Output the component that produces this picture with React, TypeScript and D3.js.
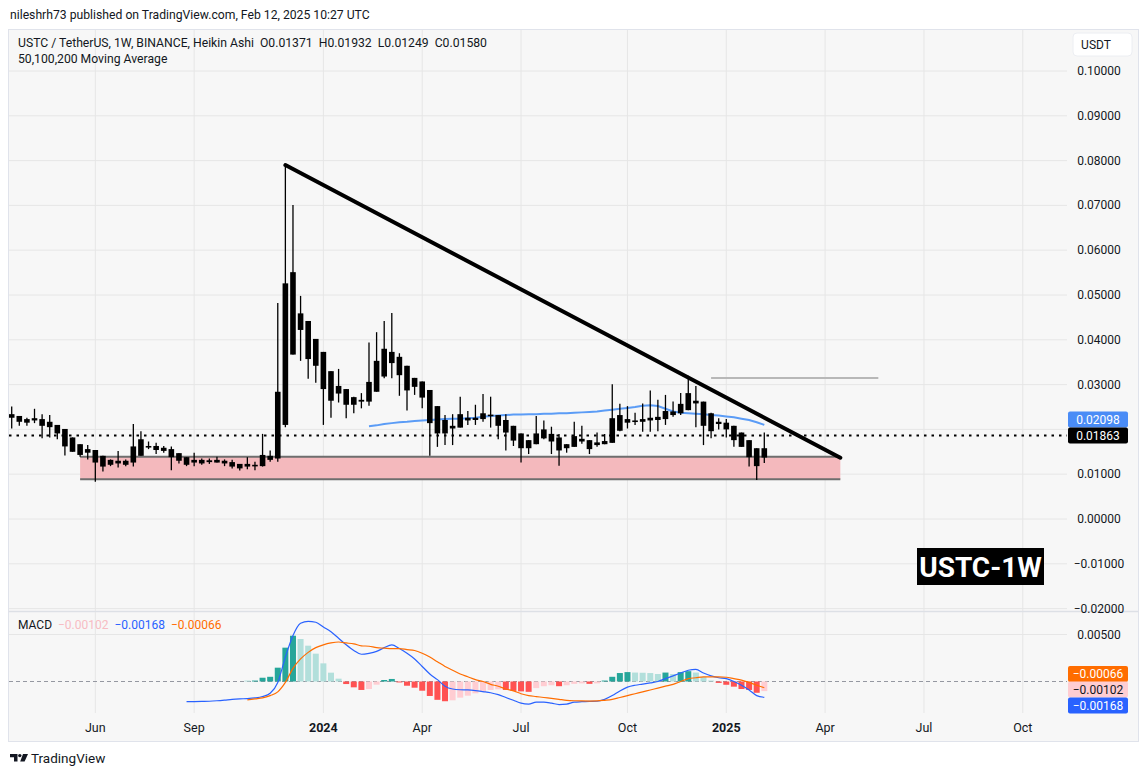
import React from "react";
import * as d3 from "d3";

// ---------- DATA ----------
const LAST_BAR = Date.UTC(2025, 1, 10);
const WEEK = 7 * 24 * 3600 * 1000;
const barDate = (i: number) => new Date(LAST_BAR - (99 - i) * WEEK);

const haHigh = [0.0251,0.0230,0.0226,0.0246,0.0234,0.0232,0.0210,0.0201,0.0182,0.0167,
0.0165,0.0154,0.0141,0.0133,0.0152,0.0133,0.0212,0.0196,0.0173,0.0170,
0.0163,0.0162,0.0147,0.0138,0.0148,0.0135,0.0135,0.0139,0.0133,0.0132,
0.0123,0.0138,0.0128,0.0190,0.0153,0.0482,0.0790,0.0701,0.0498,0.0442,
0.0402,0.0373,0.0330,0.0335,0.0290,0.0273,0.0281,0.0394,0.0417,0.0442,
0.0460,0.0370,0.0342,0.0315,0.0307,0.0288,0.0252,0.0232,0.0234,0.0273,
0.0241,0.0255,0.0279,0.0273,0.0232,0.0234,0.0208,0.0191,0.0176,0.0230,
0.0220,0.0206,0.0190,0.0167,0.0217,0.0208,0.0176,0.0193,0.0190,0.0301,
0.0257,0.0252,0.0237,0.0258,0.0287,0.0266,0.0277,0.0262,0.0281,0.0320,
0.0297,0.0262,0.0237,0.0225,0.0223,0.0208,0.0193,0.0176,0.0158,0.01932];

const haClose = [0.0234,0.0230,0.0223,0.0225,0.0223,0.0217,0.0210,0.0201,0.0182,0.0167,
0.0156,0.0154,0.0141,0.0132,0.0130,0.0130,0.0162,0.0178,0.0163,0.0163,
0.0159,0.0156,0.0147,0.0138,0.0132,0.0132,0.0131,0.0132,0.0130,0.0127,
0.0123,0.0123,0.0121,0.0143,0.0141,0.0284,0.0526,0.0551,0.0459,0.0442,
0.0402,0.0373,0.0330,0.0297,0.0290,0.0272,0.0266,0.0306,0.0353,0.0380,
0.0373,0.0362,0.0342,0.0315,0.0307,0.0288,0.0252,0.0221,0.0208,0.0234,
0.0226,0.0226,0.0236,0.0233,0.0232,0.0221,0.0208,0.0191,0.0176,0.0191,
0.0200,0.0190,0.0182,0.0167,0.0185,0.0179,0.0176,0.0171,0.0174,0.0225,
0.0232,0.0223,0.0220,0.0223,0.0226,0.0228,0.0241,0.0240,0.0257,0.0281,
0.0264,0.0262,0.0236,0.0217,0.0215,0.0208,0.0193,0.0176,0.0158,0.01580];

const haOpen = [0.0226,0.0217,0.0215,0.0220,0.0208,0.0205,0.0191,0.0162,0.0150,0.0143,
0.0148,0.0126,0.0117,0.0121,0.0124,0.0121,0.0126,0.0141,0.0160,0.0154,
0.0152,0.0138,0.0130,0.0121,0.0126,0.0124,0.0127,0.0126,0.0124,0.0117,
0.0113,0.0117,0.0119,0.0118,0.0132,0.0135,0.0210,0.0367,0.0422,0.0357,
0.0342,0.0290,0.0264,0.0280,0.0255,0.0255,0.0262,0.0262,0.0284,0.0318,
0.0348,0.0321,0.0287,0.0295,0.0271,0.0214,0.0191,0.0191,0.0202,0.0204,
0.0220,0.0221,0.0223,0.0231,0.0208,0.0193,0.0175,0.0158,0.0158,0.0167,
0.0180,0.0173,0.0153,0.0158,0.0161,0.0173,0.0156,0.0165,0.0167,0.0170,
0.0197,0.0215,0.0218,0.0217,0.0220,0.0221,0.0223,0.0232,0.0236,0.0243,
0.0258,0.0208,0.0196,0.0212,0.0200,0.0176,0.0161,0.0138,0.0118,0.01371];

const haLow = [0.0202,0.0208,0.0208,0.0214,0.0180,0.0182,0.0178,0.0142,0.0150,0.0139,
0.0133,0.0083,0.0106,0.0118,0.0115,0.0118,0.0117,0.0141,0.0156,0.0145,
0.0148,0.0109,0.0124,0.0118,0.0118,0.0121,0.0123,0.0126,0.0118,0.0113,
0.0108,0.0111,0.0109,0.0117,0.0128,0.0128,0.0205,0.0367,0.0353,0.0313,
0.0304,0.0210,0.0226,0.0260,0.0225,0.0236,0.0247,0.0253,0.0284,0.0314,
0.0314,0.0275,0.0242,0.0277,0.0247,0.0141,0.0161,0.0165,0.0165,0.0204,
0.0210,0.0210,0.0217,0.0204,0.0178,0.0153,0.0163,0.0126,0.0145,0.0167,
0.0178,0.0145,0.0119,0.0148,0.0161,0.0168,0.0145,0.0161,0.0167,0.0170,
0.0196,0.0202,0.0210,0.0195,0.0195,0.0196,0.0210,0.0228,0.0232,0.0243,
0.0205,0.0165,0.0180,0.0200,0.0182,0.0161,0.0161,0.0117,0.0087,0.01249];

const maStart = 47;
const maValues = [0.0207,0.0209,0.0212,0.0214,0.0216,0.0217,0.0219,0.0220,0.0221,0.0222,
0.0223,0.0224,0.0224,0.0225,0.0226,0.0228,0.0230,0.0231,0.0232,0.0233,
0.0233,0.0234,0.0234,0.0235,0.0235,0.0236,0.0236,0.0237,0.0238,0.0239,
0.0240,0.0242,0.0244,0.0246,0.0248,0.0250,0.0253,0.0254,0.0252,0.0246,
0.0240,0.0237,0.0236,0.0235,0.0234,0.0232,0.0231,0.0229,0.0227,0.0224,
0.0221,0.0216,0.0210];

const macdStart = 23;
const macdValues = [-0.00215,-0.00214,-0.00212,-0.0021,-0.00205,-0.00198,-0.0019,-0.00185,-0.00182,-0.00175,-0.0016,-0.00125,-0.0001,
0.0026,0.0049,0.0062,0.0064,0.0063,0.0058,0.0053,0.0046,0.0039,0.0033,0.0029,0.0030,0.0032,0.0036,0.0039,0.0035,0.0030,0.0024,0.0016,0.0008,0.0002,
-0.0005,-0.0008,-0.00088,-0.0009,-0.00097,-0.00108,-0.0012,-0.0014,-0.0017,-0.002,-0.0023,-0.0024,-0.0022,-0.0022,-0.0023,-0.00245,-0.0024,-0.0022,-0.00215,-0.00212,-0.0021,
-0.0019,-0.0015,-0.0010,-0.0006,-0.0004,-0.00028,-0.00015,0.0,0.0003,0.0006,0.0009,0.0012,0.0013,0.0009,0.0006,0.0004,0.0003,0.0,-0.0004,-0.0009,-0.0015,-0.00168];

const signalStart = 31;
const signalValues = [-0.00195,-0.00185,-0.00175,-0.0015,-0.0011,-0.0001,
0.0014,0.0024,0.0031,0.0036,0.0039,0.0041,0.0042,0.0041,0.0040,0.0038,0.00375,0.0036,0.00355,0.0035,0.0035,0.0034,0.0033,0.0030,0.0026,0.0021,0.0016,0.0012,0.0008,0.0005,0.0002,
0.0,-0.0003,-0.0005,-0.0008,-0.001,-0.0013,-0.0015,-0.0016,-0.0017,-0.0018,-0.0019,-0.002,-0.00205,-0.00207,-0.00208,-0.00207,-0.002,-0.0019,-0.0017,-0.0015,-0.0013,-0.0011,-0.0009,-0.0007,-0.0005,-0.0003,0.0,0.0003,0.0004,0.0005,0.0005,0.0005,0.00045,0.0003,0.00015,-0.0001,-0.0004,-0.00066];

const histStart = 31;
const histValues = [0.0001,0.0001,0.0004,0.0005,0.00147,0.0036,0.00487,0.00452,0.00381,0.00296,
0.00193,0.00094,0.0003,-0.00027,-0.00062,-0.0009,-0.0008,-0.00034,0.00016,0.00027,
-0.0001,-0.00045,-0.00066,-0.00098,-0.00154,-0.00195,-0.0021,-0.002,-0.00172,-0.00151,
-0.00126,-0.00109,-0.0009,-0.00083,-0.0009,-0.001,-0.00105,-0.0011,-0.0007,-0.0005,
-0.0004,-0.0005,-0.0004,-0.00025,-0.0002,-0.00025,-0.0002,0.0001,0.0005,0.0009,
0.001,0.00095,0.00093,0.0009,0.0008,0.00095,0.0008,0.001,0.0011,0.00095,
0.0005,0.0001,-0.00015,-0.00035,-0.00055,-0.0008,-0.0009,-0.0012,-0.00102];

const priceTicks = [-0.02,-0.01,0,0.01,0.02,0.03,0.04,0.05,0.06,0.07,0.08,0.09,0.1];
const macdTicks = [0.005];
const timeTickDates = ["2023-06-05","2023-09-04","2024-01-01","2024-04-01","2024-07-01","2024-10-07","2025-01-06","2025-04-07","2025-07-07","2025-10-06"];
const timeTickLabels = ["Jun","Sep","2024","Apr","Jul","Oct","2025","Apr","Jul","Oct"];

const trendStartBar = 36, trendEndBar = 109;
const trendPrices = [0.0790, 0.01368];
const resistanceBars = [92, 114];
const resistancePrice = 0.0315;
const zoneBars = [9, 109];
const zonePrices = [0.00886, 0.0139];

const lastPrice = 0.01863;
const lastMA = 0.02098;
const macdLast = -0.00168, signalLast = -0.00066, histLast = -0.00102;

// ---------- STYLE ----------
const FONT = "Roboto, 'Noto Sans', Arial, sans-serif";
const TXT = "#131722";
const BG = "#f7f7f7";
const GRID = "#e6e6e6";
const plotL = 9, plotR = 1067, mainT = 30, mainB = 611, macdT = 612, macdB = 713;

const fmt = (v: number) => d3.format(".5f")(v).replace("-", "\u2212");

export default function App() {
  const x = d3.scaleTime().domain([barDate(0), barDate(99)]).range([11.7, 764.3]);
  const y = d3.scaleLinear().domain([0, 0.1]).range([519, 71]);
  const ym = d3.scaleLinear().domain([0, 0.005]).range([681.5, 634.5]);
  const xb = (i: number) => x(barDate(i));

  const maLine = d3.line<number>().x((_, j) => xb(maStart + j)).y(v => y(v));
  const macdLine = d3.line<number>().x((_, j) => xb(macdStart + j)).y(v => ym(v)).curve(d3.curveMonotoneX);
  const sigLine = d3.line<number>().x((_, j) => xb(signalStart + j)).y(v => ym(v)).curve(d3.curveMonotoneX);

  const histColor = (v: number, prev: number | undefined) => {
    if (v >= 0) return prev !== undefined && v >= prev ? "#26a69a" : "#b2dfdb";
    return prev !== undefined && v < prev ? "#ff5252" : "#ffcdd2";
  };

  // label boxes on the price scale (positions spread so they do not overlap)
  const priceBoxes = [
    { cy: 419.5, fill: "#4a8cf6", tf: "#fff", text: fmt(lastMA) },
    { cy: 435.5, fill: "#000", tf: "#fff", text: fmt(lastPrice) },
  ];
  const macdBoxes = [
    { cy: 674, fill: "#ff6d00", tf: "#fff", text: fmt(signalLast) },
    { cy: 689.5, fill: "#ffcdd2", tf: TXT, text: fmt(histLast) },
    { cy: 705.5, fill: "#2962ff", tf: "#fff", text: fmt(macdLast) },
  ];
  const hiddenByBox = (yy: number) => priceBoxes.some(b => Math.abs(b.cy - yy) < 14);

  const labelBox = (b: { cy: number; fill: string; tf: string; text: string }, key: string) => (
    <g key={key}>
      <rect x={1068} y={b.cy - 8} width={60} height={16} rx={2} fill={b.fill} />
      <text x={1098} y={b.cy + 4} textAnchor="middle" fontSize={12} fill={b.tf} fontFamily={FONT}>{b.text}</text>
    </g>
  );

  return (
    <svg width={1147} height={777} style={{ position: "absolute", left: 0, top: 0, background: "#fff" }}>
      <defs>
        <clipPath id="mainClip"><rect x={plotL} y={mainT} width={plotR - plotL} height={mainB - mainT} /></clipPath>
        <clipPath id="macdClip"><rect x={plotL} y={macdT} width={plotR - plotL} height={macdB - macdT} /></clipPath>
      </defs>

      {/* header */}
      <text x={10} y={19} fontSize={12.2} fill={TXT} fontFamily={FONT}>nileshrh73 published on TradingView.com, Feb 12, 2025 10:27 UTC</text>

      {/* frame */}
      <rect x={8.5} y={29.5} width={1130} height={712} fill={BG} stroke="#e0e3eb" />
      <line x1={8.5} x2={1138.5} y1={611.5} y2={611.5} stroke="#dde0e6" strokeWidth={1.5} />

      {/* vertical grid */}
      {timeTickDates.map((d, i) => {
        const xx = x(new Date(d + "T00:00:00Z"));
        return <g key={"vg" + i}>
          <line x1={xx} x2={xx} y1={mainT} y2={mainB} stroke={GRID} />
          <line x1={xx} x2={xx} y1={macdT} y2={macdB} stroke={GRID} />
        </g>;
      })}
      {/* horizontal grid */}
      {priceTicks.map((p, i) => (
        <line key={"hg" + i} x1={plotL} x2={plotR} y1={y(p)} y2={y(p)} stroke={GRID} clipPath="url(#mainClip)" />
      ))}
      {macdTicks.map((p, i) => (
        <line key={"mg" + i} x1={plotL} x2={plotR} y1={ym(p)} y2={ym(p)} stroke={GRID} />
      ))}

      {/* main pane */}
      <g clipPath="url(#mainClip)">
        <rect x={xb(zoneBars[0])} width={xb(zoneBars[1]) - xb(zoneBars[0])} y={y(zonePrices[1])} height={y(zonePrices[0]) - y(zonePrices[1])} fill="#f4b9bd" />
        <line x1={xb(zoneBars[0])} x2={xb(zoneBars[1])} y1={y(zonePrices[1])} y2={y(zonePrices[1])} stroke="#6e6e6e" strokeWidth={2} />
        <line x1={xb(zoneBars[0])} x2={xb(zoneBars[1])} y1={y(zonePrices[0])} y2={y(zonePrices[0])} stroke="#6e6e6e" strokeWidth={2} />

        <line x1={plotL} x2={plotR} y1={y(lastPrice)} y2={y(lastPrice)} stroke="#000" strokeWidth={2} strokeDasharray="2.5 5" />

        <line x1={xb(resistanceBars[0])} x2={xb(resistanceBars[1])} y1={y(resistancePrice)} y2={y(resistancePrice)} stroke="#b8b8b8" strokeWidth={2} />

        <path d={maLine(maValues) || ""} fill="none" stroke="#5b9cf6" strokeWidth={2} />

        {haHigh.map((h, i) => {
          const cx = xb(i);
          const top = Math.max(haOpen[i], haClose[i]);
          const bot = Math.min(haOpen[i], haClose[i]);
          const yt = y(top), yb2 = y(bot);
          return <g key={"c" + i}>
            <line x1={cx} x2={cx} y1={y(h)} y2={y(haLow[i])} stroke="#000" strokeWidth={1.3} />
            <rect x={cx - 2.8} width={5.6} y={yt} height={Math.max(1.6, yb2 - yt)} fill="#000" />
          </g>;
        })}

        <line x1={xb(trendStartBar)} x2={xb(trendEndBar)} y1={y(trendPrices[0])} y2={y(trendPrices[1])} stroke="#000" strokeWidth={4} strokeLinecap="round" />
      </g>

      {/* macd pane */}
      <g clipPath="url(#macdClip)">
        <line x1={plotL} x2={plotR} y1={ym(0)} y2={ym(0)} stroke="#9598a1" strokeDasharray="4 3" />
        {histValues.map((v, j) => {
          const cx = xb(histStart + j);
          const prev = j === 0 ? undefined : histValues[j - 1];
          const y0 = ym(0), y1 = ym(v);
          return <rect key={"h" + j} x={cx - 3} width={6} y={Math.min(y0, y1)} height={Math.max(0.8, Math.abs(y1 - y0))} fill={histColor(v, prev)} />;
        })}
        <path d={macdLine(macdValues) || ""} fill="none" stroke="#2962ff" strokeWidth={1.2} />
        <path d={sigLine(signalValues) || ""} fill="none" stroke="#ff6d00" strokeWidth={1.2} />
      </g>

      {/* legends */}
      <text x={18} y={47} fontSize={12.2} fill={TXT} fontFamily={FONT} style={{ whiteSpace: "pre" }}>
        {"USTC / TetherUS, 1W, BINANCE, Heikin Ashi  O0.01371  H0.01932  L0.01249  C0.01580"}
      </text>
      <text x={18} y={63} fontSize={12.2} fill={TXT} fontFamily={FONT}>50,100,200 Moving Average</text>
      <text x={18} y={629} fontSize={12} fontFamily={FONT} style={{ whiteSpace: "pre" }}>
        <tspan fill={TXT}>MACD  </tspan>
        <tspan fill="#f7bcc3">{fmt(histLast) + "  "}</tspan>
        <tspan fill="#2962ff">{fmt(macdLast) + "  "}</tspan>
        <tspan fill="#ff6d00">{fmt(signalLast)}</tspan>
      </text>

      {/* price axis */}
      <rect x={1073} y={33} width={59} height={23} rx={4} fill="#fff" stroke="#eceef2" />
      <text x={1096} y={49} textAnchor="middle" fontSize={12} fill={TXT} fontFamily={FONT}>USDT</text>
      {priceTicks.filter(p => !hiddenByBox(y(p))).map((p, i) => (
        <text key={"pt" + i} x={1099} y={y(p) + 4} textAnchor="middle" fontSize={12} fill={TXT} fontFamily={FONT}>{fmt(p)}</text>
      ))}
      {macdTicks.map((p, i) => (
        <text key={"mt" + i} x={1099} y={ym(p) + 4} textAnchor="middle" fontSize={12} fill={TXT} fontFamily={FONT}>{fmt(p)}</text>
      ))}
      {priceBoxes.map((b, i) => labelBox(b, "pb" + i))}
      {macdBoxes.map((b, i) => labelBox(b, "mb" + i))}

      {/* time axis */}
      {timeTickDates.map((d, i) => {
        const bold = /^\d{4}$/.test(timeTickLabels[i]);
        return <text key={"tt" + i} x={x(new Date(d + "T00:00:00Z"))} y={732} textAnchor="middle" fontSize={12.5} fontWeight={bold ? 700 : 400} fill={TXT} fontFamily={FONT}>{timeTickLabels[i]}</text>;
      })}

      {/* watermark */}
      <rect x={917} y={548} width={127} height={37} fill="#000" />
      <text x={980.5} y={577} textAnchor="middle" fontSize={28} fontWeight={700} fill="#fff" fontFamily={FONT}>USTC-1W</text>

      {/* footer logo */}
      <path d="M10 754 H17.5 V761.5 H14 V757.2 H10 Z" fill={TXT} />
      <circle cx={19.8} cy={755.6} r={1.7} fill={TXT} />
      <path d="M23 754 H28 L24.6 761.5 H20.2 Z" fill={TXT} />
      <text x={31} y={763} fontSize={13.5} fill={TXT} fontFamily={FONT}>TradingView</text>
    </svg>
  );
}
